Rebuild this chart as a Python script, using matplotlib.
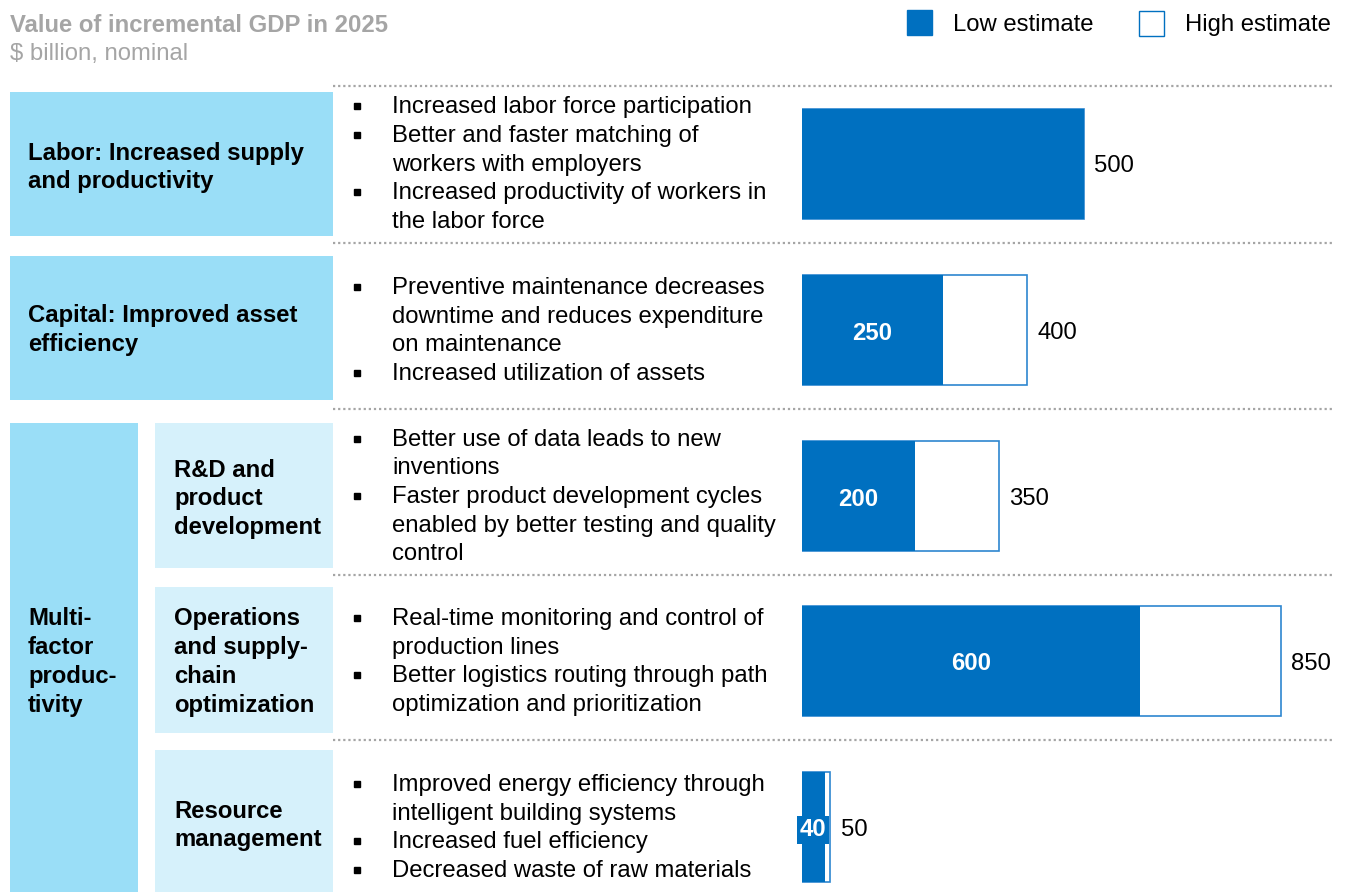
import matplotlib.pyplot as plt
from matplotlib.patches import Rectangle

plt.rcParams["font.family"] = ["Liberation Sans", "DejaVu Sans"]

W, H = 1346, 892
BLUE = "#0070C0"
BOX_DARK = "#9ADEF7"
BOX_LIGHT = "#D6F1FB"
GREY = "#A5A5A5"
FS = 17.2
DY = 3  # nudge text down so it sits on the line like Arial would

# low / high estimates, $ billion
rows = ["Labor", "Capital", "R&D", "Operations", "Resource"]
low = [500, 250, 200, 600, 40]
high = [500, 400, 350, 850, 50]

bullets = [
    [["Increased labor force participation"],
     ["Better and faster matching of", "workers with employers"],
     ["Increased productivity of workers in", "the labor force"]],
    [["Preventive maintenance decreases", "downtime and reduces expenditure", "on maintenance"],
     ["Increased utilization of assets"]],
    [["Better use of data leads to new", "inventions"],
     ["Faster product development cycles", "enabled by better testing and quality", "control"]],
    [["Real-time monitoring and control of", "production lines"],
     ["Better logistics routing through path", "optimization and prioritization"]],
    [["Improved energy efficiency through", "intelligent building systems"],
     ["Increased fuel efficiency"],
     ["Decreased waste of raw materials"]],
]

row_y = [163.5, 330, 496, 661, 827]
seps = [86, 243, 409, 575, 740]

fig = plt.figure(figsize=(W / 100, H / 100), dpi=100)
ax = fig.add_axes([0, 0, 1, 1])
ax.set_xlim(0, W)
ax.set_ylim(H, 0)
ax.axis("off")

# header
ax.text(10, 22 + DY, "Value of incremental GDP in 2025", fontsize=FS, fontweight="bold",
        color=GREY, va="center")
ax.text(10, 51 + DY, "$ billion, nominal", fontsize=FS, color=GREY, va="center")

ax.add_patch(Rectangle((907, 10), 25, 25, facecolor=BLUE, edgecolor=BLUE))
ax.text(953, 22 + DY, "Low estimate", fontsize=FS, va="center")
ax.add_patch(Rectangle((1138.5, 10.5), 25, 25, facecolor="white", edgecolor=BLUE, lw=1))
ax.text(1185, 22 + DY, "High estimate", fontsize=FS, va="center")

for y in seps:
    ax.plot([333, 1334], [y, y], color=GREY, lw=1.6, ls=(0, (1, 1.3)))

# category boxes
ax.add_patch(Rectangle((10, 92), 323, 144, color=BOX_DARK, lw=0))
ax.add_patch(Rectangle((10, 256), 323, 144, color=BOX_DARK, lw=0))
ax.add_patch(Rectangle((10, 423), 128, 480, color=BOX_DARK, lw=0))
for top, bot in [(423, 568), (587, 733), (750, 900)]:
    ax.add_patch(Rectangle((155, top), 178, bot - top, color=BOX_LIGHT, lw=0))

def label(x, yc, lines, step=28.7):
    y0 = yc - step * (len(lines) - 1) / 2
    for i, s in enumerate(lines):
        ax.text(x, y0 + i * step + DY, s, fontsize=FS, fontweight="bold", va="center")

label(28, 164.5, ["Labor: Increased supply", "and productivity"])
label(28, 327, ["Capital: Improved asset", "efficiency"])
label(28, 659, ["Multi-", "factor", "produc-", "tivity"])
label(174, 496, ["R&D and", "product", "development"])
label(174, 659, ["Operations", "and supply-", "chain", "optimization"])
label(174, 822.5, ["Resource", "management"])

# bullet text
step = 28.7
for yc, items in zip(row_y, bullets):
    n = sum(len(b) for b in items)
    y = yc - 2 - step * (n - 1) / 2
    for b in items:
        ax.plot(357, y + 2, marker="s", ms=5, color="black", ls="none")
        for s in b:
            ax.text(392, y + DY, s, fontsize=FS, va="center")
            y += step

# bars
bx = fig.add_axes([802 / W, 0, (W - 802) / W, 1])
bx.set_xlim(0, (W - 802) / 0.563)
bx.set_ylim(H, 0)
bx.axis("off")
bx.patch.set_alpha(0)

bar_h = 110
bx.barh(row_y, high, height=bar_h, color="white", edgecolor="#2E86D0", lw=1.2)
bx.barh(row_y, low, height=bar_h, color=BLUE, lw=0)

for yc, lo, hi in zip(row_y, low, high):
    bx.annotate(str(hi), (hi, yc + DY), xytext=(7.5, 0), textcoords="offset points",
                fontsize=FS, va="center", ha="left")
    if lo != hi:
        kw = {}
        if lo < 100:
            kw["bbox"] = dict(boxstyle="square,pad=0.12", fc=BLUE, ec="none")
        bx.text(lo / 2, yc + DY, str(lo), fontsize=FS, fontweight="bold", color="white",
                ha="center", va="center", **kw)

fig.savefig("out.png", dpi=100)
